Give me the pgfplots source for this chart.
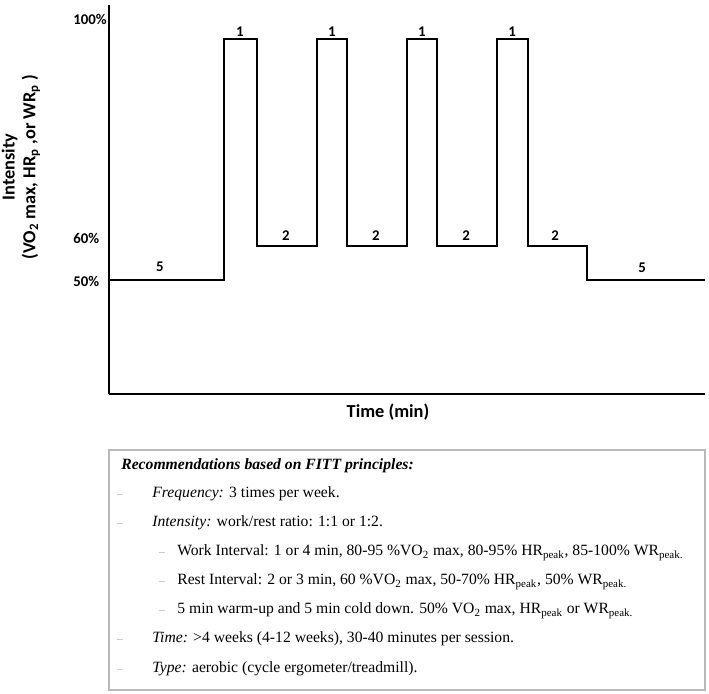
\documentclass[border=0pt]{standalone}
\usepackage{fontspec}
\setmainfont{Liberation Serif}
\newfontfamily\calibri{Carlito}
\usepackage{pgfplots}
\pgfplotsset{compat=1.18}
\newcommand{\dash}{{\color{gray!70}\fontsize{7}{8}\selectfont –}}
\begin{document}
\begin{tikzpicture}
\path[use as bounding box] (0,0) rectangle (425.4pt,416.4pt);
\begin{axis}[
  at={(65.4pt,180pt)}, anchor=south west,
  scale only axis, width=357.6pt, height=233.4pt,
  xmin=0, xmax=596, ymin=0, ymax=389,
  axis lines=left,
  axis line style={-, line width=1.2pt},
  xtick=\empty,
  ytick={113,156,375},
  yticklabels={50\%,60\%,100\%},
  major tick length=0pt,
  yticklabel style={anchor=west, inner sep=0pt, xshift=-21.6pt,
    font=\calibri\bfseries\fontsize{8.9}{10}\selectfont},
  clip=false,
]
\addplot[const plot, black, line width=1.2pt] coordinates {
  (0,114) (115,355) (148,148) (208,355) (238,148) (298,355)
  (328,148) (388,355) (419,148) (478,114) (596,114)
};
\begin{scope}[font=\calibri\bfseries\fontsize{8.9}{10}\selectfont]
\node at (axis cs:51,127) {5};
\node at (axis cs:131,362) {1};
\node at (axis cs:223,362) {1};
\node at (axis cs:313,362) {1};
\node at (axis cs:403,362) {1};
\node at (axis cs:177,158) {2};
\node at (axis cs:267,158) {2};
\node at (axis cs:357,158) {2};
\node at (axis cs:446,158) {2};
\node at (axis cs:533,126) {5};
\end{scope}
\node[font=\calibri\bfseries\fontsize{11}{12}\selectfont] at (axis cs:279,-18) {Time (min)};
\end{axis}
\begin{scope}[x=0.6pt,y=-0.6pt,shift={(0pt,416.4pt)}]
\node[rotate=90, align=center, font=\calibri\bfseries\fontsize{11}{12.5}\selectfont] at (21,167)
  {Intensity\\(VO\textsubscript{2} max, HR\textsubscript{p} ,or WR\textsubscript{p} )};
\draw[gray!55, line width=0.7pt] (109,450) rectangle (705,690);
\begin{scope}[every node/.style={anchor=base west, inner sep=0pt, font=\fontsize{9.4}{11}\selectfont}]
\node at (121,470) {\bfseries\itshape Recommendations based on FITT principles:};
\node[anchor=base] at (120,498) {\dash};
\node at (152,498) {\textit{Frequency:} 3 times per week.};
\node[anchor=base] at (120,527) {\dash};
\node at (152,527) {\textit{Intensity:} work/rest ratio: 1:1 or 1:2.};
\node[anchor=base] at (162,556) {\dash};
\node at (177,556) {Work Interval: 1 or 4 min, 80-95 \%VO\textsubscript{2} max, 80-95\% HR\textsubscript{peak}, 85-100\% WR\textsubscript{peak.}};
\node[anchor=base] at (162,585) {\dash};
\node at (177,585) {Rest Interval: 2 or 3 min, 60 \%VO\textsubscript{2} max, 50-70\% HR\textsubscript{peak}, 50\% WR\textsubscript{peak.}};
\node[anchor=base] at (162,614) {\dash};
\node at (177,614) {5 min warm-up and 5 min cold down. 50\% VO\textsubscript{2} max, HR\textsubscript{peak} or WR\textsubscript{peak.}};
\node[anchor=base] at (120,643) {\dash};
\node at (152,643) {\textit{Time:} >4 weeks (4-12 weeks), 30-40 minutes per session.};
\node[anchor=base] at (120,672) {\dash};
\node at (152,672) {\textit{Type:} aerobic (cycle ergometer/treadmill).};
\end{scope}
\end{scope}
\end{tikzpicture}
\end{document}
